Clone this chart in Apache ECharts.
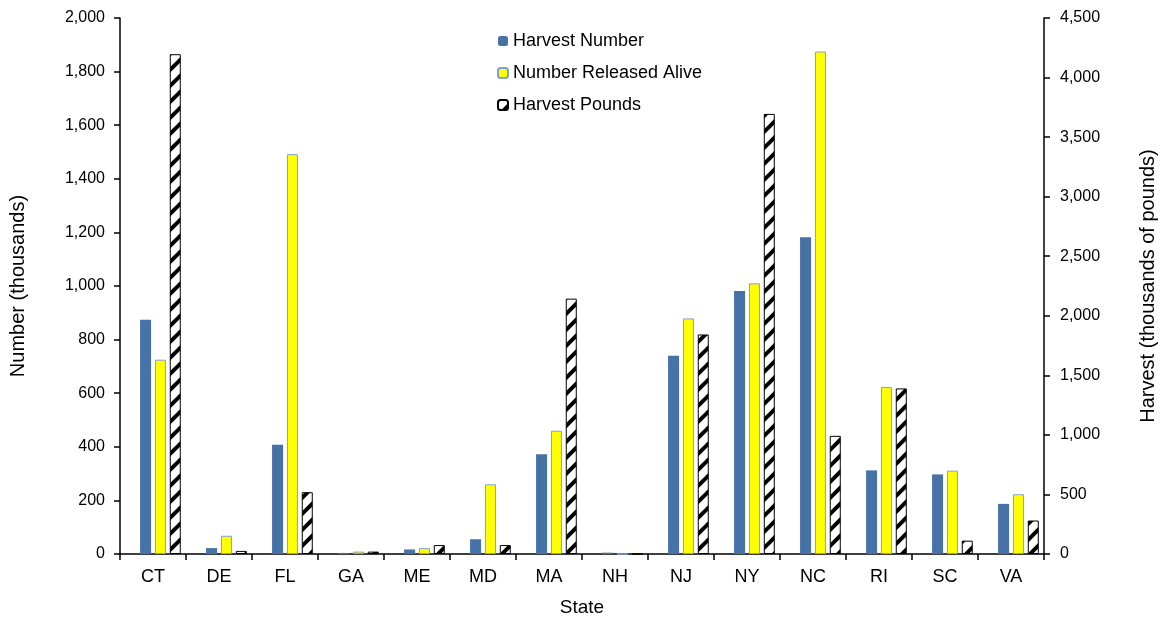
<!DOCTYPE html>
<html>
<head>
<meta charset="utf-8">
<script src="https://cdn.jsdelivr.net/npm/echarts@6/dist/echarts.min.js"></script>
<style>
  html, body { margin: 0; padding: 0; background: #fff; }
  #chart { width: 1166px; height: 622px; }
</style>
</head>
<body>
<div id="chart"></div>
<script>
// data
var states = ['CT', 'DE', 'FL', 'GA', 'ME', 'MD', 'MA', 'NH', 'NJ', 'NY', 'NC', 'RI', 'SC', 'VA']
var harvestNumber = [874, 22, 408, 4, 17, 55, 372, 5, 740, 981, 1182, 312, 297, 187]
var releasedAlive = [725, 68, 1492, 9, 22, 260, 460, 0, 879, 1010, 1875, 623, 311, 223]
var harvestPounds = [4196, 26, 519, 20, 75, 75, 2144, 0, 1843, 3695, 992, 1390, 112, 281]
var leftTicks = { min: 0, max: 2000, interval: 200 }
var rightTicks = { min: 0, max: 4500, interval: 500 }

var font = 'Liberation Sans, Arial, sans-serif'

// diagonal hatch like the excel pattern fill
function makeHatch () {
  var c = document.createElement('canvas')
  c.width = 16
  c.height = 16
  var g = c.getContext('2d')
  g.fillStyle = '#fff'
  g.fillRect(0, 0, 16, 16)
  g.strokeStyle = '#000'
  g.lineWidth = 4
  ;[0, 16, 32].forEach(function (k) {
    g.beginPath()
    g.moveTo(k + 4, -4)
    g.lineTo(k - 20, 20)
    g.stroke()
  })
  return c
}

function fmt (v) {
  return Number(v).toLocaleString('en-US')
}

var axisLine = { show: true, lineStyle: { color: '#000', width: 1.5 } }
var axisTick = { show: true, length: 6, lineStyle: { color: '#000', width: 1.5 } }

var option = {
  animation: false,
  backgroundColor: '#fff',
  grid: { left: 119, right: 117, top: 18, bottom: 63 },
  legend: {
    orient: 'vertical',
    left: 492,
    top: 27,
    itemWidth: 10,
    itemHeight: 10,
    itemGap: 14,
    data: ['Harvest Number', 'Number Released Alive', 'Harvest Pounds'],
    textStyle: { fontSize: 18, color: '#000', fontFamily: font }
  },
  xAxis: {
    type: 'category',
    data: states,
    name: 'State',
    nameLocation: 'middle',
    nameGap: 44,
    nameTextStyle: { fontSize: 19, color: '#000', fontFamily: font },
    axisLine: axisLine,
    axisTick: { show: true, length: 6, interval: 0, lineStyle: { color: '#000', width: 1.5 } },
    axisLabel: { fontSize: 18, color: '#000', fontFamily: font, margin: 14, interval: 0 }
  },
  yAxis: [{
    type: 'value',
    min: leftTicks.min,
    max: leftTicks.max,
    interval: leftTicks.interval,
    name: 'Number (thousands)',
    nameLocation: 'middle',
    nameRotate: 90,
    nameGap: 92,
    nameTextStyle: { fontSize: 20, color: '#000', fontFamily: font },
    axisLine: axisLine,
    axisTick: axisTick,
    splitLine: { show: false },
    axisLabel: { fontSize: 16, color: '#000', fontFamily: font, margin: 15, formatter: fmt }
  }, {
    type: 'value',
    position: 'right',
    min: rightTicks.min,
    max: rightTicks.max,
    interval: rightTicks.interval,
    name: 'Harvest (thousands of pounds)',
    nameLocation: 'middle',
    nameRotate: 90,
    nameGap: 94,
    nameTextStyle: { fontSize: 20, color: '#000', fontFamily: font },
    axisLine: axisLine,
    axisTick: axisTick,
    splitLine: { show: false },
    axisLabel: { fontSize: 16, color: '#000', fontFamily: font, margin: 16, formatter: fmt }
  }],
  series: [{
    // empty slot: excel leaves room for a fourth series on the left
    name: 'spacer',
    type: 'bar',
    barWidth: 11,
    barGap: '35%',
    data: []
  }, {
    name: 'Harvest Number',
    type: 'bar',
    barWidth: 11,
    barGap: '35%',
    itemStyle: { color: '#4672A8' },
    data: harvestNumber
  }, {
    name: 'Number Released Alive',
    type: 'bar',
    barWidth: 11,
    barGap: '35%',
    itemStyle: { color: '#FFFF00', borderColor: '#7FA0D6', borderWidth: 1 },
    data: releasedAlive
  }, {
    name: 'Harvest Pounds',
    type: 'bar',
    yAxisIndex: 1,
    barWidth: 11,
    barGap: '35%',
    itemStyle: {
      color: { image: makeHatch(), repeat: 'repeat' },
      borderColor: '#000',
      borderWidth: 1
    },
    data: harvestPounds
  }]
}

echarts.init(document.getElementById('chart')).setOption(option)
</script>
</body>
</html>
